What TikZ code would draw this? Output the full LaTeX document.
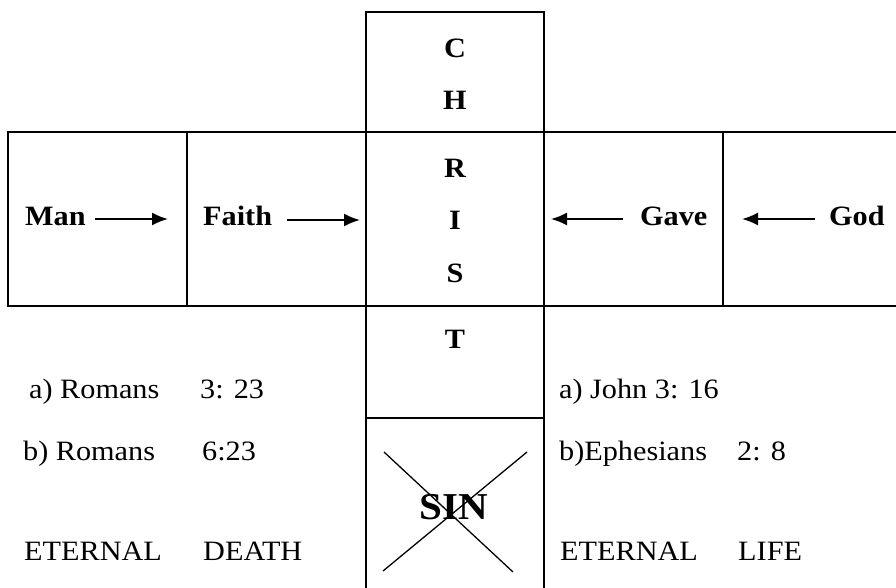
\documentclass[tikz,border=0pt]{standalone}
\usepackage{fontspec}
\setmainfont{Liberation Serif}[FakeStretch=1.08]
\usetikzlibrary{arrows.meta}
\tikzset{
  frame/.style={line width=1.7pt, line cap=rect},
  thin/.style={line width=1.3pt},
  lbl/.style={inner sep=0pt, anchor=base west, font=\fontsize{28}{30}\selectfont},
  blbl/.style={inner sep=0pt, anchor=base west, font=\fontsize{28}{30}\selectfont\bfseries},
  letter/.style={inner sep=0pt, anchor=center, font=\fontsize{28}{30}\selectfont\bfseries},
  arr/.style={line width=1.9pt, -{Latex[length=16pt,width=13pt]}},
}
\begin{document}
\begin{tikzpicture}[x=1pt,y=-1pt]
\useasboundingbox (0,0) rectangle (896,588);
% frame lines
\draw[frame] (366,588) -- (366,12) -- (544,12) -- (544,588);
\draw[frame] (8,132) -- (896,132);
\draw[frame] (8,306) -- (896,306);
\draw[frame] (8,132) -- (8,306);
\draw[frame] (187,132) -- (187,306);
\draw[frame] (723,132) -- (723,306);
\draw[frame] (366,418) -- (544,418);
% CHRIST letters
\node[letter] (c) at (455,48) {C};
\node[letter] (h) at (455,100) {H};
\node[letter] (r) at (455,168) {R};
\node[letter] (i) at (455,220) {I};
\node[letter] (s) at (455,273) {S};
\node[letter] (t) at (455,339) {T};
% SIN crossed out
\node[inner sep=0pt, anchor=center, font=\fontsize{38}{40}\selectfont\bfseries] (sin) at (454,507) {SIN};
\coordinate (x1) at (384,452);
\coordinate (x2) at (513,572);
\coordinate (x3) at (527,452);
\coordinate (x4) at (383,571);
\draw[thin] (x1) -- (x2);
\draw[thin] (x3) -- (x4);
% row labels
\node[blbl] (man) at (25,225) {Man};
\node[blbl] (faith) at (203,225) {Faith};
\node[blbl] (gave) at (640,225) {Gave};
\node[blbl] (god) at (829,225) {God};
\coordinate (a1s) at (95,219);
\coordinate (a1e) at (168,219);
\coordinate (a2s) at (287,220);
\coordinate (a2e) at (360,220);
\coordinate (a3s) at (623,219);
\coordinate (a3e) at (551,219);
\coordinate (a4s) at (815,219);
\coordinate (a4e) at (742,219);
\draw[arr] (a1s) -- (a1e);
\draw[arr] (a2s) -- (a2e);
\draw[arr] (a3s) -- (a3e);
\draw[arr] (a4s) -- (a4e);
% left references
\node[lbl] (ra) at (29,398) {a) Romans};
\node[lbl] (rav) at (200,398) {3: 23};
\node[lbl] (rb) at (23,460) {b) Romans};
\node[lbl] (rbv) at (202,460) {6:23};
\node[lbl] (ed1) at (24,560) {ETERNAL};
\node[lbl] (ed2) at (203,560) {DEATH};
% right references
\node[lbl] (ja) at (559,398) {a) John 3: 16};
\node[lbl] (jb) at (559,460) {b)Ephesians};
\node[lbl] (jbv) at (737,460) {2: 8};
\node[lbl] (el1) at (560,560) {ETERNAL};
\node[lbl] (el2) at (738,560) {LIFE};
\end{tikzpicture}
\end{document}
